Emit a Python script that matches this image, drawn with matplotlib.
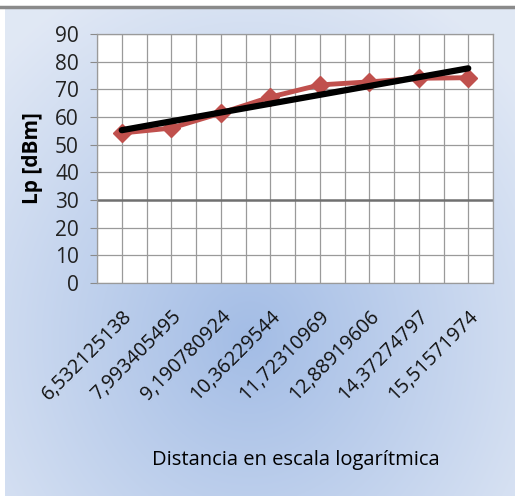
import numpy as np
import matplotlib
matplotlib.use("Agg")
import matplotlib.pyplot as plt

# distancias (escala log) y perdidas medidas
distancias = ["6,532125138", "7,993405495", "9,190780924", "10,36229544",
              "11,72310969", "12,88919606", "14,37274797", "15,51571974"]
lp = [54.2, 56.0, 61.4, 67.2, 71.6, 72.7, 74.0, 74.2]
yticks = [0, 10, 20, 30, 40, 50, 60, 70, 80, 90]

plt.rcParams['font.family'] = ['Open Sans', 'DejaVu Sans']

W, H = 515, 496
fig = plt.figure(figsize=(W / 100, H / 100), dpi=100)
fig.patch.set_facecolor('white')

# fondo degradado
bg = fig.add_axes([5 / W, 0, 1 - 5 / W, 1 - 7 / H])
bg.set_axis_off()
gx, gy = np.meshgrid(np.linspace(0, 1, 300), np.linspace(0, 1, 300))
r = np.sqrt(((gx - 0.48) / 0.7) ** 2 + ((gy - 0.68) / 0.8) ** 2)
r = np.clip(r, 0, 1)
c_in = np.array([0.64, 0.74, 0.90])
c_out = np.array([0.88, 0.91, 0.96])
img = c_in[None, None, :] * (1 - r[..., None]) + c_out[None, None, :] * r[..., None]
bg.imshow(img, aspect='auto', extent=[0, 1, 0, 1], origin='upper')
fig.add_artist(plt.Line2D([0, 1], [1 - 6.5 / H, 1 - 6.5 / H], color='#8a8a8a', lw=2.5))

ax = fig.add_axes([97 / W, 1 - 283 / H, (493 - 97) / W, (283 - 34) / H])
ax.set_facecolor('white')
x = np.arange(len(lp))

# cuadricula
for v in np.arange(-0.5, len(lp) + 0.25, 0.5):
    ax.axvline(v, color='#9a9a9a', lw=0.9, zorder=1)
for v in yticks:
    ax.axhline(v, color='#707070' if v == 30 else '#9a9a9a', lw=1.8 if v == 30 else 0.9, zorder=1)

ax.plot(x, lp, color='#c0504d', lw=3.5, marker='D', markersize=9, zorder=3)
coef = np.polyfit(x, lp, 1)
ax.plot(x, np.polyval(coef, x), color='black', lw=4.5, solid_capstyle='round', zorder=4)

ax.set_xlim(-0.5, len(lp) - 0.5)
ax.set_ylim(0, 90)
ax.set_yticks(yticks)
ax.set_xticks(x)
ax.set_xticklabels(distancias, rotation=45, ha='right', rotation_mode='anchor', fontsize=14.3)
ax.tick_params(axis='y', labelsize=15, length=5, color='#8a8a8a', pad=8, labelcolor='#222222')
ax.tick_params(axis='x', length=0, pad=17, labelcolor='#111111')
for s in ax.spines.values():
    s.set_color('#9a9a9a')
    s.set_linewidth(0.9)
ax.set_ylabel('Lp [dBm]', fontsize=15, fontweight='bold', labelpad=9)
fig.text(0.575, 1 - 460 / H, 'Distancia en escala logarítmica', fontsize=14.5,
         ha='center', va='center', fontweight='medium')

fig.savefig('out.png', dpi=100)
